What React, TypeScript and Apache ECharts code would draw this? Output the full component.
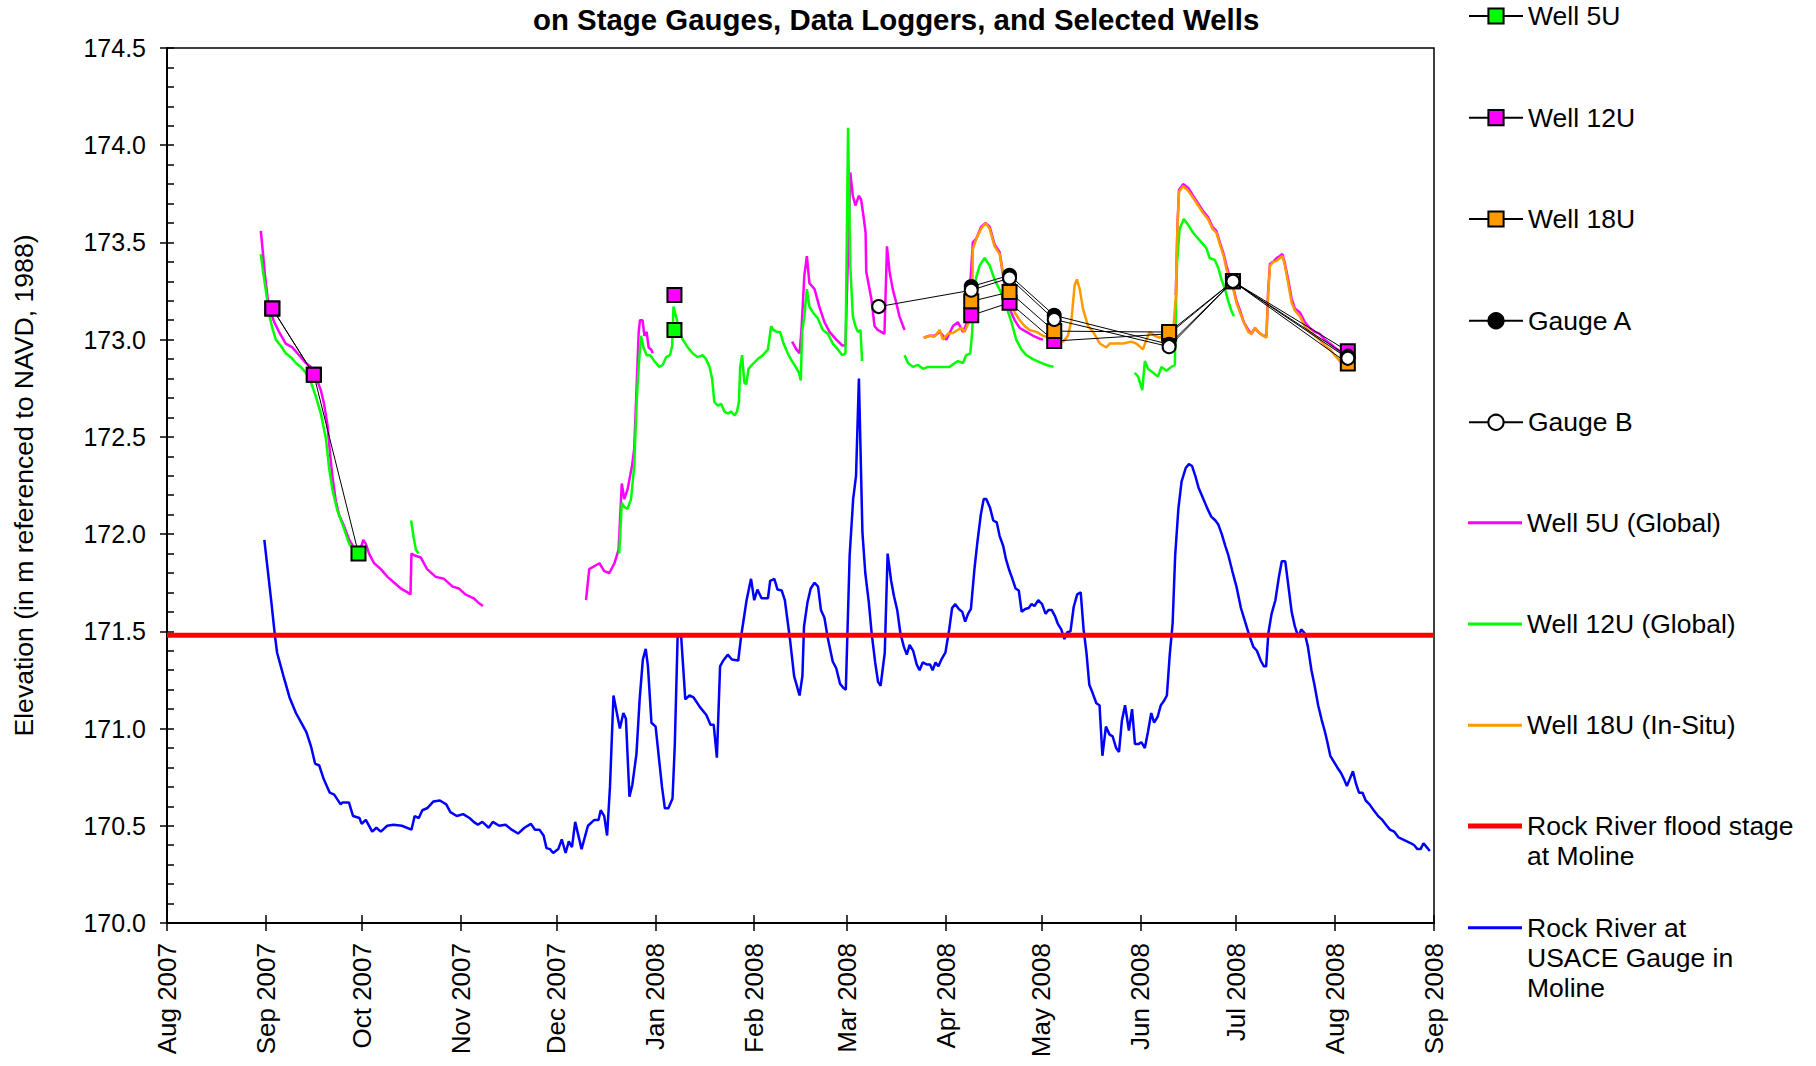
import React, { useEffect, useRef } from 'react';
import * as echarts from 'echarts';

const FONT = '"Liberation Sans", Arial, Helvetica, sans-serif';

// x values are days since 1 Aug 2007
const MONTH_LABELS = ['Aug 2007', 'Sep 2007', 'Oct 2007', 'Nov 2007', 'Dec 2007', 'Jan 2008', 'Feb 2008', 'Mar 2008', 'Apr 2008', 'May 2008', 'Jun 2008', 'Jul 2008', 'Aug 2008', 'Sep 2008'];
const BASE_UTC = Date.UTC(2007, 7, 1);
const DAY_MS = 86400000;
const MONTH_STARTS = MONTH_LABELS.map((_, i) => Math.round((Date.UTC(2007, 7 + i, 1) - BASE_UTC) / DAY_MS));

const Y_MIN = 170;
const Y_MAX = 174.5;
const Y_STEP = 0.5;
const FLOOD_STAGE = 171.48;

const TITLE = 'on Stage Gauges, Data Loggers, and Selected Wells';
const Y_NAME = 'Elevation (in m referenced to NAVD, 1988)';

const NAMES = ['Well 5U', 'Well 12U', 'Well 18U', 'Gauge A', 'Gauge B', 'Well 5U (Global)', 'Well 12U (Global)', 'Well 18U (In-Situ)', 'Rock River flood stage at Moline', 'Rock River at USACE Gauge in Moline'];
const LEGEND_TEXT: Record<string, string> = {
  'Rock River flood stage at Moline': 'Rock River flood stage\nat Moline',
  'Rock River at USACE Gauge in Moline': 'Rock River at\nUSACE Gauge in\nMoline',
};

// manual measurements (segments separated by gaps)
const WELL_5U = [
  [[33, 173.16], [46, 172.82], [60, 171.90]],
  [[159, 173.05]],
];
const WELL_12U = [
  [[33, 173.16], [46, 172.82]],
  [[159, 173.23]],
  [[252, 173.125], [264, 173.19], [278, 172.993], [314, 173.03], [334, 173.30], [370, 172.941]],
];
const WELL_18U = [
  [[252, 173.197], [264, 173.245], [278, 173.044], [314, 173.039], [334, 173.30], [370, 172.878]],
];
const GAUGE_A = [
  [[252, 173.273], [264, 173.331], [278, 173.125], [314, 172.976], [334, 173.30], [370, 172.915]],
];
const GAUGE_B = [
  [[223, 173.17], [252, 173.254], [264, 173.317], [278, 173.104], [314, 172.964], [334, 173.30], [370, 172.904]],
];

const WELL_5U_GLOBAL = [
  [[29.4, 173.56], [30.1, 173.44], [30.7, 173.33], [31.5, 173.22], [32.3, 173.15], [33.6, 173.09], [35.1, 173.04], [37.2, 172.98], [39.3, 172.96], [41.4, 172.92], [43.5, 172.88], [45.1, 172.86], [46.6, 172.81], [48.2, 172.74], [49.2, 172.67], [50.3, 172.56], [51, 172.43], [51.8, 172.30], [52.9, 172.17], [53.9, 172.10], [55.5, 172.04], [57.1, 171.97], [58.6, 171.93], [60.2, 171.90], [61.5, 171.97], [62.3, 171.95], [63.3, 171.90], [64.9, 171.85], [67, 171.82], [69.1, 171.78], [71.2, 171.75], [73.3, 171.72], [75.4, 171.70], [76.3, 171.69], [76.6, 171.90], [77.6, 171.89], [79.5, 171.88], [81.5, 171.82], [84.2, 171.78], [86.8, 171.77], [89.5, 171.73], [91.5, 171.72], [93.5, 171.69], [96.1, 171.67], [97.4, 171.65], [99, 171.63]],
  [[131.3, 171.66], [132.3, 171.82], [134.4, 171.84], [135.5, 171.85], [137, 171.81], [138.6, 171.80], [140.2, 171.85], [141.5, 171.92], [142.5, 172.26], [143.3, 172.18], [144.3, 172.23], [145.7, 172.35], [146.4, 172.44], [147.2, 172.78], [147.8, 173.04], [148.2, 173.10], [149, 173.10], [149.6, 173.02], [150.3, 173.04], [150.9, 172.96], [151.7, 172.95], [152.2, 172.93]],
  [[195.9, 172.99], [197.2, 172.95], [198.2, 172.93], [198.8, 173.05], [199.7, 173.33], [200.5, 173.43], [201.3, 173.29], [202.9, 173.26], [204.4, 173.17], [206, 173.09], [207.6, 173.04], [209.7, 173.00], [211.6, 172.97], [212.6, 172.97], [213.5, 173.5], [214.1, 173.86], [214.9, 173.74], [215.7, 173.69], [216.8, 173.74], [217.5, 173.72], [218.2, 173.64], [218.9, 173.55], [219.1, 173.35], [219.9, 173.28], [220.7, 173.21], [221.7, 173.07], [222.7, 173.05], [223.8, 173.04], [224.8, 173.03], [225.6, 173.48], [226.4, 173.35], [227.4, 173.26], [228.5, 173.19], [229.5, 173.12], [231.1, 173.05]],
  [[237.1, 173.01], [239, 173.02], [240.5, 173.02], [242.1, 173.04], [244.2, 173.00], [246.3, 173.07], [247.8, 173.09], [249.4, 173.04], [251, 173.10], [252.5, 173.50], [253.6, 173.52], [255.1, 173.58], [256.5, 173.60], [257.8, 173.58], [259.3, 173.49], [260.9, 173.45], [262, 173.33], [263, 173.22], [264, 173.16], [265.6, 173.10], [267.2, 173.06], [269.3, 173.04], [271.4, 173.02], [273.4, 173.005], [274.5, 173.0]],
  [[316.1, 173.23], [316.6, 173.58], [317.1, 173.77], [318.4, 173.80], [320, 173.78], [321.5, 173.74], [323.1, 173.70], [324.7, 173.66], [326.2, 173.63], [327.6, 173.58], [328.8, 173.56], [329.9, 173.50], [331.1, 173.44], [332, 173.38], [333, 173.32], [334.1, 173.27], [335.1, 173.20], [336.2, 173.15], [337.4, 173.09], [338.8, 173.05], [339.8, 173.03], [340.9, 173.06], [341.9, 173.04], [343.5, 173.02], [344.5, 173.02], [345, 173.24], [345.6, 173.39], [346.6, 173.40], [347.7, 173.42], [348.7, 173.43], [349.5, 173.44], [350.3, 173.39], [351.3, 173.31], [352.4, 173.21], [353.4, 173.16], [355, 173.14], [356.5, 173.09], [358.1, 173.06], [359.7, 173.04], [361.2, 173.03], [362.8, 173.0], [364.4, 172.98], [365.9, 172.96], [367.5, 172.94], [369.1, 172.92]],
];

const WELL_12U_GLOBAL = [
  [[29.4, 173.44], [30.1, 173.35], [30.9, 173.26], [32, 173.13], [33, 173.06], [34.1, 173.0], [35.6, 172.97], [37.2, 172.93], [38.8, 172.91], [40.4, 172.88], [41.9, 172.86], [43.5, 172.83], [45.1, 172.78], [46.6, 172.71], [48.2, 172.62], [49.8, 172.49], [50.8, 172.34], [51.8, 172.23], [53.4, 172.12], [55, 172.05], [57.1, 171.95], [58.6, 171.92], [60.2, 171.91], [62.5, 171.92]],
  [[76.5, 172.07], [77.2, 171.99], [78, 171.92], [78.8, 171.90]],
  [[141.7, 171.90], [142.5, 172.16], [143.3, 172.14], [144.3, 172.13], [145.4, 172.18], [146.4, 172.35], [147.2, 172.69], [147.8, 172.86], [148.5, 173.02], [149.3, 172.96], [150.3, 172.92], [151.4, 172.92], [152.7, 172.89], [154.3, 172.86], [155.3, 172.87], [156.4, 172.91], [157.6, 172.92], [158.3, 172.97], [158.7, 173.17], [159.5, 173.12], [160.5, 173.05], [161.6, 173.0], [163.2, 172.96], [164.7, 172.93], [166.3, 172.91], [167.9, 172.92], [168.9, 172.90], [170, 172.86], [170.8, 172.80], [171.5, 172.68], [172.6, 172.66], [173.6, 172.67], [174.7, 172.63], [175.7, 172.62], [176.8, 172.63], [177.8, 172.61], [178.6, 172.63], [179.2, 172.68], [179.6, 172.86], [180.2, 172.92], [180.9, 172.78], [181.5, 172.77], [182.2, 172.85], [183.3, 172.87], [185.1, 172.90], [186.7, 172.92], [188.3, 172.95], [189.3, 173.07], [190, 173.05], [191.1, 173.04], [192.1, 173.04], [193.2, 172.98], [194.5, 172.93], [195.8, 172.89], [197, 172.86], [198, 172.83], [198.6, 172.79], [199, 173.04], [199.7, 173.12], [200.5, 173.26], [201.3, 173.17], [202.4, 173.14], [203.9, 173.11], [205.5, 173.05], [207.1, 173.03], [208.6, 172.98], [210.2, 172.95], [211.6, 172.92], [212.6, 172.93], [213.4, 174.09], [214.1, 173.38], [214.9, 173.12], [215.7, 173.07], [216.5, 173.04], [217.3, 173.05], [217.8, 172.89]],
  [[231.1, 172.92], [232.2, 172.88], [233.7, 172.86], [235.3, 172.87], [236.9, 172.85], [238.4, 172.86], [240, 172.86], [241.6, 172.86], [243.1, 172.86], [245.2, 172.86], [247.8, 172.89], [249.4, 172.88], [250.4, 172.92], [251.7, 172.93], [252.3, 173.04], [252.7, 173.21], [253.4, 173.31], [254.6, 173.38], [256.2, 173.42], [257.8, 173.38], [259.3, 173.31], [261.4, 173.24], [263, 173.17], [264.6, 173.09], [266.1, 173.0], [267.7, 172.95], [269.3, 172.92], [271.3, 172.90], [273.4, 172.885], [275.5, 172.87], [277.8, 172.86]],
  [[303.2, 172.83], [304.3, 172.81], [305.6, 172.74], [306.4, 172.89], [307.4, 172.85], [309, 172.83], [310.5, 172.81], [311.6, 172.86], [313.2, 172.84], [314.7, 172.86], [315.8, 172.87], [316.1, 173.14], [316.5, 173.40], [317.3, 173.57], [318.6, 173.62], [320, 173.59], [321.5, 173.55], [323.1, 173.52], [324.7, 173.49], [325.7, 173.47], [326.7, 173.42], [328.3, 173.41], [329.4, 173.37], [330.4, 173.31], [331.5, 173.26], [332.5, 173.20], [333.5, 173.15], [334.3, 173.12]],
];

const WELL_18U_INSITU = [
  [[237.1, 173.01], [239, 173.02], [240.5, 173.015], [242.1, 173.05], [243.1, 173.0], [244.7, 173.03], [246.3, 173.035], [247.8, 173.05], [248.9, 173.06], [249.9, 173.04], [251.5, 173.10], [252.3, 173.22], [252.5, 173.465], [253.6, 173.52], [255.1, 173.57], [256.5, 173.60], [257.8, 173.57], [259.3, 173.48], [260.9, 173.44], [261.9, 173.345], [263.5, 173.26], [264.5, 173.18], [265.6, 173.14], [267.2, 173.10], [268.7, 173.07], [270.3, 173.05], [272.4, 173.04], [274.5, 173.02], [276.6, 173.01], [278.7, 173.0], [280.8, 172.99], [282.3, 173.02], [283.4, 173.10], [284.4, 173.28], [285.1, 173.31], [286, 173.26], [287, 173.16], [288.6, 173.07], [290.2, 173.04], [292.3, 172.98], [294.3, 172.96], [295.4, 172.98], [297.5, 172.98], [299.6, 172.98], [302.2, 172.99], [303.7, 172.98], [305.8, 172.95], [306.9, 173.0], [307.9, 173.04], [309.5, 173.02], [311.1, 173.01], [313.2, 173.04], [315.3, 173.05], [316.1, 173.22], [316.6, 173.57], [317.1, 173.76], [318.4, 173.79], [320, 173.765], [321.5, 173.73], [323.1, 173.69], [324.7, 173.65], [326.2, 173.62], [327.6, 173.57], [328.8, 173.55], [329.9, 173.49], [331.1, 173.43], [332, 173.36], [333, 173.31], [334.1, 173.26], [335.1, 173.19], [336.2, 173.14], [337.4, 173.09], [338.8, 173.04], [339.8, 173.03], [340.9, 173.06], [341.9, 173.04], [343.5, 173.02], [344.5, 173.01], [345, 173.22], [345.6, 173.38], [346.6, 173.40], [347.7, 173.405], [348.7, 173.42], [349.5, 173.43], [350.3, 173.38], [351.3, 173.29], [352.4, 173.19], [353.4, 173.15], [355, 173.12], [356.5, 173.07], [358.1, 173.04], [359.7, 173.02], [361.2, 173.0], [362.8, 172.97], [364.4, 172.95], [365.9, 172.92], [367.5, 172.89], [369.1, 172.86]],
];

const ROCK_RIVER_USACE = [
  [[30.5, 171.97], [32.7, 171.65], [33.8, 171.48], [34.5, 171.39], [36.5, 171.27], [38.4, 171.16], [40.4, 171.08], [42.4, 171.02], [43.7, 170.98], [45.1, 170.91], [46.4, 170.82], [47.7, 170.81], [49.1, 170.74], [51, 170.67], [52.4, 170.66], [54.4, 170.61], [55, 170.62], [57, 170.62], [58.3, 170.55], [60.3, 170.54], [61, 170.51], [62.3, 170.53], [64.3, 170.47], [65.6, 170.49], [67, 170.47], [69, 170.50], [71, 170.505], [73.6, 170.50], [76.6, 170.48], [77.6, 170.55], [78.9, 170.54], [80, 170.58], [81.5, 170.59], [83.5, 170.625], [85.5, 170.63], [87.5, 170.61], [88.8, 170.57], [90.8, 170.55], [92.8, 170.56], [94.8, 170.54], [96.1, 170.52], [97.4, 170.505], [98.8, 170.52], [100.8, 170.49], [102.1, 170.52], [104.1, 170.50], [106.1, 170.505], [108, 170.48], [110, 170.46], [112, 170.49], [114, 170.51], [115.3, 170.48], [116.7, 170.48], [118, 170.45], [118.9, 170.385], [120, 170.38], [121, 170.36], [122.6, 170.38], [123.7, 170.43], [124.9, 170.36], [125.9, 170.42], [126.9, 170.39], [127.9, 170.52], [129.9, 170.38], [131.9, 170.50], [133.9, 170.53], [135.2, 170.53], [135.9, 170.58], [137, 170.55], [137.9, 170.45], [138.8, 170.70], [139.9, 171.17], [141.9, 171.0], [143, 171.08], [143.8, 171.05], [144.9, 170.65], [145.8, 170.71], [147.1, 170.87], [148.1, 171.15], [149.1, 171.355], [150, 171.41], [150.7, 171.32], [151.8, 171.03], [153.1, 171.01], [155.1, 170.70], [156, 170.59], [157.1, 170.59], [158.4, 170.64], [159.1, 170.91], [160, 171.475], [161.1, 171.475], [162.4, 171.15], [163.7, 171.17], [165, 171.16], [167, 171.11], [169, 171.07], [170.3, 171.02], [171.3, 171.02], [172.3, 170.85], [173.3, 171.32], [174.3, 171.35], [175.7, 171.38], [177, 171.355], [179, 171.35], [179.9, 171.475], [181.6, 171.66], [183, 171.77], [184, 171.66], [185, 171.715], [186.3, 171.67], [188.3, 171.67], [189, 171.76], [190.3, 171.77], [191.3, 171.715], [192.6, 171.71], [193.6, 171.66], [195.2, 171.46], [196.5, 171.27], [198.2, 171.17], [199.1, 171.27], [199.6, 171.525], [200.7, 171.65], [201.7, 171.72], [202.9, 171.75], [204, 171.73], [204.9, 171.61], [206, 171.57], [207, 171.47], [208.6, 171.345], [209.7, 171.31], [210.9, 171.23], [211.9, 171.21], [212.7, 171.20], [213.9, 171.89], [215, 172.18], [215.9, 172.30], [216.8, 172.80], [217.9, 172.01], [218.8, 171.80], [219.9, 171.65], [220.8, 171.49], [221.9, 171.34], [222.8, 171.24], [223.6, 171.22], [224.9, 171.39], [225.8, 171.90], [226.9, 171.76], [227.8, 171.68], [228.8, 171.61], [229.8, 171.49], [230.9, 171.42], [231.8, 171.38], [232.7, 171.43], [233.8, 171.40], [234.9, 171.33], [235.8, 171.30], [236.8, 171.34], [238, 171.33], [239.1, 171.33], [239.9, 171.30], [240.8, 171.34], [241.7, 171.32], [242.8, 171.36], [243.9, 171.39], [245.1, 171.51], [246, 171.62], [247, 171.64], [248.1, 171.615], [249.2, 171.60], [250.1, 171.55], [251, 171.59], [251.9, 171.615], [253, 171.82], [253.9, 171.955], [255, 172.10], [255.9, 172.18], [256.7, 172.18], [257.9, 172.135], [258.9, 172.07], [260, 172.06], [260.9, 171.99], [262, 171.94], [262.9, 171.87], [264, 171.81], [264.9, 171.77], [265.9, 171.72], [266.9, 171.71], [267.8, 171.60], [268.9, 171.615], [270, 171.62], [270.9, 171.64], [271.8, 171.63], [273, 171.66], [274.2, 171.64], [275.3, 171.59], [276.2, 171.61], [277.2, 171.61], [278.2, 171.58], [279.1, 171.54], [280.2, 171.51], [281.2, 171.46], [282.1, 171.495], [283.1, 171.50], [284.1, 171.625], [285.2, 171.69], [286.3, 171.70], [287.2, 171.51], [288.1, 171.39], [289, 171.225], [290.1, 171.18], [291.2, 171.13], [292.2, 171.12], [293.1, 170.86], [294.2, 171.01], [295.3, 170.97], [296.3, 170.96], [297.4, 170.90], [298.3, 170.88], [299.2, 171.04], [300.2, 171.12], [301.4, 170.99], [302.4, 171.10], [303.3, 170.92], [304.4, 170.92], [305.3, 170.93], [306.4, 170.90], [307.4, 170.985], [308.4, 171.08], [309.3, 171.03], [310.4, 171.06], [311.4, 171.12], [312.3, 171.14], [313.3, 171.17], [314.2, 171.38], [315.1, 171.54], [315.9, 171.89], [316.9, 172.13], [317.9, 172.27], [319.2, 172.34], [320.2, 172.36], [321.2, 172.35], [322.2, 172.30], [323.2, 172.24], [324.5, 172.19], [325.9, 172.135], [327.2, 172.09], [328.5, 172.07], [329.4, 172.05], [330.5, 172.0], [331.6, 171.94], [332.5, 171.895], [333.8, 171.81], [335.1, 171.73], [336.5, 171.62], [337.8, 171.55], [339.1, 171.48], [340.4, 171.42], [341.5, 171.40], [342.7, 171.35], [343.7, 171.32], [344.4, 171.32], [345.1, 171.49], [346.1, 171.59], [347.3, 171.66], [348.4, 171.78], [349.3, 171.86], [350.4, 171.86], [351.4, 171.73], [352.4, 171.60], [353.4, 171.525], [354.5, 171.47], [355.4, 171.51], [356.5, 171.49], [357.5, 171.42], [358.6, 171.30], [359.6, 171.22], [360.7, 171.12], [361.8, 171.045], [362.8, 170.985], [363.6, 170.93], [364.5, 170.86], [365.6, 170.83], [366.7, 170.80], [367.9, 170.77], [368.8, 170.74], [369.7, 170.705], [370.6, 170.74], [371.6, 170.78], [372.5, 170.72], [373.5, 170.67], [374.6, 170.67], [375.6, 170.63], [376.8, 170.61], [378.1, 170.58], [379.5, 170.55], [380.8, 170.53], [382.2, 170.50], [383.2, 170.48], [384.5, 170.47], [385.9, 170.44], [387.2, 170.43], [388.5, 170.42], [389.8, 170.41], [390.8, 170.40], [391.8, 170.38], [392.8, 170.38], [393.7, 170.41], [394.7, 170.39], [395.7, 170.37]],
];

function withGaps(segs: number[][][]) {
  const out: any[] = [];
  segs.forEach((s, i) => {
    if (i > 0) {
      const prev = segs[i - 1][segs[i - 1].length - 1][0];
      out.push([(prev + s[0][0]) / 2, null]);
    }
    s.forEach((p) => out.push(p));
  });
  return out;
}

// icon for a legend line drawn beside the first line of a multi-line label
function firstLineIcon(lines: number, lineH: number, thick: number, w: number) {
  const h = lines * lineH;
  const y0 = lineH / 2 - thick / 2;
  return `path://M0,0h0.01v0.01h-0.01z M0,${h - 0.01}h0.01v0.01h-0.01z M0,${y0}h${w}v${thick}h-${w}z`;
}

const LEGEND_CENTERS = [16, 117.7, 219, 320.7, 422.3, 522.7, 624, 725.3, 826, 927.7];

export default function App() {
  const ref = useRef<HTMLDivElement>(null);
  useEffect(() => {
    if (!ref.current) return;
    const chart = echarts.init(ref.current, undefined, { renderer: 'svg' });
    const xMax = MONTH_STARTS[MONTH_STARTS.length - 1];

    const lineSeries = (name: string, segs: number[][][], color: string, width: number) => ({
      name,
      type: 'line',
      data: withGaps(segs),
      symbol: 'none',
      color,
      itemStyle: { color },
      lineStyle: { color, width },
      connectNulls: false,
      silent: true,
      z: 2,
    });
    const markerSeries = (name: string, segs: number[][][], symbol: string, fill: string, size: number) => ({
      name,
      type: 'line',
      data: withGaps(segs),
      symbol,
      symbolSize: size,
      showSymbol: true,
      color: fill,
      itemStyle: { color: fill, borderColor: '#000', borderWidth: 2 },
      lineStyle: { color: '#000', width: 1 },
      connectNulls: false,
      silent: true,
      z: 3,
    });

    const LINE_H = 30;
    const ICON_W = 54;
    const legendSpecs: { icon?: string; itemHeight: number }[] = [
      { itemHeight: 19 },
      { itemHeight: 19 },
      { itemHeight: 19 },
      { itemHeight: 19 },
      { itemHeight: 19 },
      { icon: 'rect', itemHeight: 3 },
      { icon: 'rect', itemHeight: 3 },
      { icon: 'rect', itemHeight: 3 },
      { icon: firstLineIcon(2, LINE_H, 5, ICON_W), itemHeight: 2 * LINE_H },
      { icon: firstLineIcon(3, LINE_H, 3, ICON_W), itemHeight: 3 * LINE_H },
    ];
    const legends = NAMES.map((name, i) => {
      const spec = legendSpecs[i];
      const l: any = {
        left: 1468,
        top: LEGEND_CENTERS[i] - LINE_H / 2,
        orient: 'vertical',
        padding: 0,
        itemWidth: ICON_W,
        itemHeight: spec.itemHeight,
        symbolKeepAspect: false,
        selectedMode: false,
        data: [name],
        formatter: (n: string) => LEGEND_TEXT[n] || n,
        textStyle: { fontSize: 26.5, lineHeight: LINE_H, color: '#000', fontFamily: FONT },
      };
      if (spec.icon) l.icon = spec.icon;
      return l;
    });

    const axisFont = { fontSize: 25, color: '#000', fontFamily: FONT };

    chart.setOption({
      animation: false,
      backgroundColor: '#fff',
      title: {
        text: TITLE,
        left: 533,
        top: 5,
        padding: 0,
        textStyle: { fontSize: 29.4, fontWeight: 'bold', color: '#000', fontFamily: FONT },
      },
      legend: legends,
      grid: {
        left: 167,
        right: 382,
        top: 48,
        bottom: 143,
        show: true,
        borderColor: '#000',
        borderWidth: 1.5,
        backgroundColor: 'transparent',
        containLabel: false,
        outerBoundsMode: 'none',
      },
      xAxis: [
        {
          type: 'value',
          min: 0,
          max: xMax,
          position: 'bottom',
          axisLine: { show: true, onZero: false, lineStyle: { color: '#000', width: 2 } },
          axisTick: { show: true, inside: false, length: 8, customValues: MONTH_STARTS, lineStyle: { color: '#000', width: 1.5 } },
          axisLabel: {
            show: true,
            customValues: MONTH_STARTS,
            rotate: 90,
            margin: 20,
            ...axisFont,
            fontSize: 26,
            formatter: (v: number) => MONTH_LABELS[MONTH_STARTS.indexOf(Math.round(v))] || '',
          },
          splitLine: { show: false },
        },
        {
          type: 'value',
          min: 0,
          max: xMax,
          position: 'bottom',
          axisLine: { show: false, onZero: false },
          axisTick: { show: true, inside: true, length: 8, customValues: MONTH_STARTS, lineStyle: { color: '#000', width: 1.5 } },
          axisLabel: { show: false },
          splitLine: { show: false },
        },
      ],
      yAxis: [
        {
          type: 'value',
          min: Y_MIN,
          max: Y_MAX,
          interval: Y_STEP,
          position: 'left',
          name: Y_NAME,
          nameLocation: 'middle',
          nameGap: 130,
          nameTextStyle: { ...axisFont, fontSize: 26.6 },
          axisLine: { show: true, onZero: false, lineStyle: { color: '#000', width: 2 } },
          axisTick: { show: true, inside: false, length: 7, lineStyle: { color: '#000', width: 1.5 } },
          axisLabel: { ...axisFont, margin: 21, formatter: (v: number) => v.toFixed(1) },
          splitLine: { show: false },
        },
        {
          type: 'value',
          min: Y_MIN,
          max: Y_MAX,
          interval: Y_STEP,
          position: 'left',
          axisLine: { show: false, onZero: false },
          axisTick: { show: true, inside: true, length: 7, lineStyle: { color: '#000', width: 1.5 } },
          minorTick: { show: true, splitNumber: 5, length: 7, lineStyle: { color: '#000', width: 1.5 } },
          axisLabel: { show: false },
          splitLine: { show: false },
          minorSplitLine: { show: false },
        },
      ],
      series: [
        lineSeries(NAMES[5], WELL_5U_GLOBAL, '#ff00ff', 2.5),
        lineSeries(NAMES[6], WELL_12U_GLOBAL, '#00ff00', 2.5),
        lineSeries(NAMES[7], WELL_18U_INSITU, '#ff9900', 2.5),
        lineSeries(NAMES[9], ROCK_RIVER_USACE, '#0000ff', 2.5),
        lineSeries(NAMES[8], [[[0, FLOOD_STAGE], [xMax, FLOOD_STAGE]]], '#ff0000', 5),
        markerSeries(NAMES[0], WELL_5U, 'rect', '#00ff00', 14),
        markerSeries(NAMES[1], WELL_12U, 'rect', '#ff00ff', 14),
        markerSeries(NAMES[2], WELL_18U, 'rect', '#ff9900', 14),
        markerSeries(NAMES[3], GAUGE_A, 'circle', '#000000', 13),
        markerSeries(NAMES[4], GAUGE_B, 'circle', '#ffffff', 13),
      ],
    });
    return () => chart.dispose();
  }, []);

  return (
    <div
      ref={ref}
      style={{ position: 'absolute', left: 0, top: 0, width: 1816, height: 1066, background: '#fff' }}
    />
  );
}
